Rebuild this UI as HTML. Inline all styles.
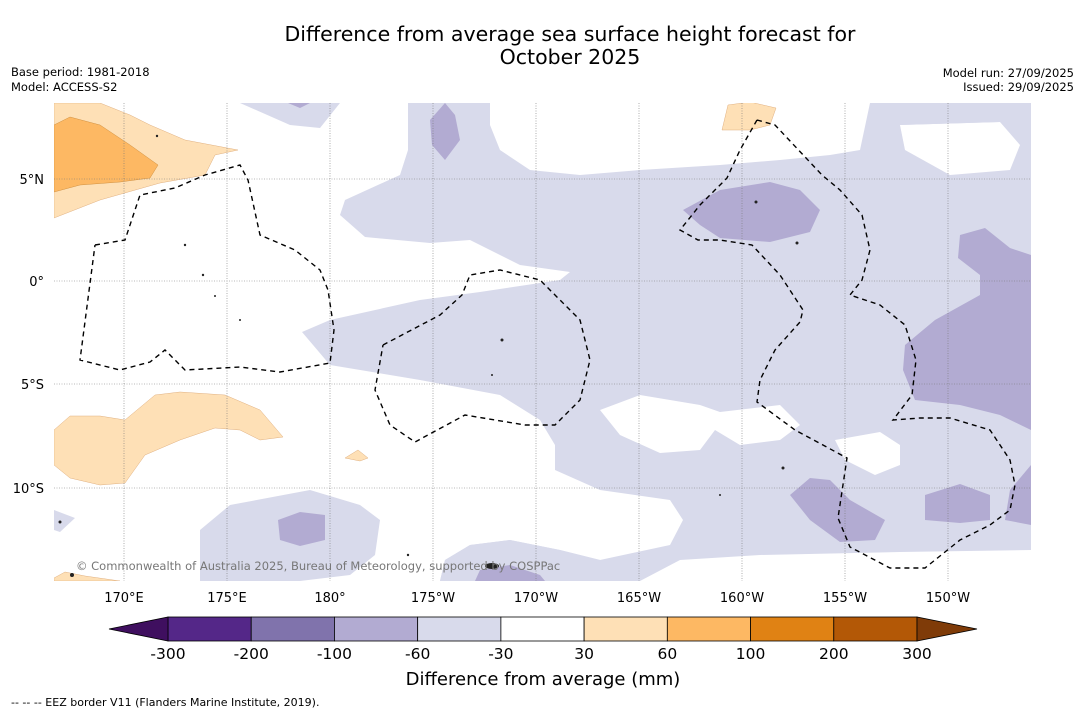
<!DOCTYPE html>
<html><head><meta charset="utf-8"><style>
body{margin:0;background:#fff;width:1085px;height:713px;overflow:hidden;font-family:"DejaVu Sans",sans-serif}
svg{position:absolute;left:0;top:0}
</style></head><body>
<svg width="1085" height="713" font-family="DejaVu Sans, sans-serif">
<text x="570" y="41" text-anchor="middle" font-size="20.5">Difference from average sea surface height forecast for</text>
<text x="570" y="64" text-anchor="middle" font-size="20.5">October 2025</text>
<text x="11" y="76" font-size="11.5">Base period: 1981-2018</text>
<text x="11" y="91" font-size="11.5">Model: ACCESS-S2</text>
<text x="1074" y="77" font-size="11.5" text-anchor="end">Model run: 27/09/2025</text>
<text x="1074" y="91" font-size="11.5" text-anchor="end">Issued: 29/09/2025</text>
<defs><clipPath id="mc"><rect x="54" y="103" width="977" height="478"/></clipPath></defs>
<g clip-path="url(#mc)">
<rect x="54" y="103" width="977" height="478" fill="#d8daeb"/>
<g fill="#fff">
<polygon points="54,103 408,103 408,150 400,175 345,200 340,215 365,237 430,243 470,240 520,265 570,272 560,280 480,292 420,300 330,320 302,332 330,365 420,380 500,395 540,420 555,445 555,470 600,490 670,500 683,520 670,545 600,560 560,550 510,540 470,545 445,560 440,581 54,581"/>
<polygon points="490,103 870,103 860,150 830,155 780,160 720,165 640,170 580,175 530,170 500,150 490,125"/>
<polygon points="900,125 1000,122 1020,145 1010,170 950,175 905,150"/>
<polygon points="600,410 640,395 700,405 720,412 780,405 800,425 780,440 740,445 715,430 700,450 660,453 620,435"/>
<polygon points="835,440 880,432 900,445 900,465 875,475 845,460"/>
<polygon points="680,560 760,555 900,552 1031,550 1031,581 640,581"/>
</g>
<g fill="#d8daeb">
<polygon points="200,530 230,505 310,490 360,505 380,520 375,555 350,575 300,581 200,581"/>
<polygon points="54,510 75,518 60,532 54,530"/>
<polygon points="445,560 470,545 510,540 560,550 600,560 640,581 440,581"/>
<polygon points="870,103 1031,103 1031,125 1000,122 900,125"/>
<polygon points="240,103 340,103 320,128 290,125"/>
</g>
<g fill="#b2abd2">
<polygon points="430,120 445,103 455,115 460,140 445,160 432,145"/>
<polygon points="683,210 720,190 770,182 800,190 820,210 810,232 770,242 720,238 700,225"/>
<polygon points="960,235 985,228 1010,248 1031,255 1031,430 1000,415 960,405 915,400 903,370 905,345 935,320 980,295 980,275 958,258"/>
<polygon points="790,495 810,478 830,480 850,500 885,520 875,540 840,542 810,520"/>
<polygon points="925,495 960,484 990,495 990,520 960,523 925,520"/>
<polygon points="1010,490 1031,465 1031,525 1005,520"/>
<polygon points="278,520 300,512 325,515 325,540 300,546 280,540"/>
<polygon points="288,103 310,103 300,108"/>
<polygon points="480,570 510,565 540,575 545,581 475,581"/>
</g>
<g fill="#fee0b6" stroke="#e0b080" stroke-width="0.5">
<polygon points="54,103 100,103 130,115 150,125 185,140 238,150 215,155 205,175 160,183 100,200 54,218"/>
<polygon points="54,430 70,416 100,416 125,420 155,395 180,392 225,395 260,410 283,437 260,440 240,430 215,428 180,440 145,455 125,483 100,485 70,478 54,465"/>
<polygon points="722,130 728,105 750,102 776,108 770,125 750,130"/>
<polygon points="345,458 358,450 368,458 360,461"/>
<polygon points="54,578 65,572 85,576 120,581 54,581"/>
</g>
<polygon fill="#fdb863" stroke="#d09040" stroke-width="0.5" points="54,125 70,117 100,125 130,145 158,165 150,178 120,182 80,185 54,192"/>
<g stroke="#777" stroke-width="0.6" stroke-dasharray="1,1.5">
<line x1="124" y1="103" x2="124" y2="581"/><line x1="227" y1="103" x2="227" y2="581"/><line x1="330" y1="103" x2="330" y2="581"/><line x1="433" y1="103" x2="433" y2="581"/><line x1="536" y1="103" x2="536" y2="581"/><line x1="639" y1="103" x2="639" y2="581"/><line x1="742" y1="103" x2="742" y2="581"/><line x1="845" y1="103" x2="845" y2="581"/><line x1="948" y1="103" x2="948" y2="581"/>
<line x1="54" y1="179" x2="1031" y2="179"/><line x1="54" y1="281" x2="1031" y2="281"/><line x1="54" y1="384" x2="1031" y2="384"/><line x1="54" y1="488" x2="1031" y2="488"/>
</g>
<g fill="none" stroke="#000" stroke-width="1.4" stroke-dasharray="5,4">
<polyline points="95,245 125,240 140,195 175,188 205,175 240,165 248,180 260,235 295,250 320,270 328,290 334,330 330,363 280,372 240,367 185,370 165,350 150,362 120,370 80,360 95,245"/>
<polyline points="383,345 440,315 462,295 470,275 500,270 540,280 580,320 590,360 580,400 555,425 525,425 465,415 415,442 390,425 375,390 383,345"/>
<polyline points="757,120 775,125 822,175 840,190 862,215 870,250 862,280 850,295 880,305 905,325 916,360 912,395 893,420 920,418 950,418 990,430 1010,460 1015,485 1010,510 990,525 960,540 925,568 890,568 850,547 838,518 847,458 795,430 757,402 760,380 775,350 800,322 803,310 780,275 752,245 720,240 698,240 680,230 700,205 727,178 740,150 757,120"/>
</g>
<g fill="#222">
<circle cx="185" cy="245" r="1.2"/><circle cx="203" cy="275" r="1.2"/><circle cx="215" cy="296" r="1"/><circle cx="240" cy="320" r="1"/><circle cx="502" cy="340" r="1.5"/><circle cx="492" cy="375" r="1"/><circle cx="756" cy="202" r="1.5"/><circle cx="797" cy="243" r="1.5"/><circle cx="783" cy="468" r="1.5"/><circle cx="720" cy="495" r="1"/><circle cx="60" cy="522" r="1.5"/><circle cx="72" cy="575" r="2"/><ellipse cx="492" cy="566" rx="7" ry="3"/><circle cx="408" cy="555" r="1.2"/><circle cx="157" cy="136" r="1.2"/>
</g>
</g>
<text x="76" y="570" font-size="11.5" fill="#777">© Commonwealth of Australia 2025, Bureau of Meteorology, supported by COSPPac</text>
<g font-size="13" text-anchor="middle">
<text x="124" y="602">170°E</text><text x="227" y="602">175°E</text><text x="330" y="602">180°</text><text x="433" y="602">175°W</text><text x="536" y="602">170°W</text><text x="639" y="602">165°W</text><text x="742" y="602">160°W</text><text x="845" y="602">155°W</text><text x="948" y="602">150°W</text>
</g>
<g font-size="13" text-anchor="end">
<text x="44" y="184">5°N</text><text x="44" y="286">0°</text><text x="44" y="389">5°S</text><text x="44" y="493">10°S</text>
</g>
<g id="cbar"></g>
<text x="543" y="685" text-anchor="middle" font-size="18">Difference from average (mm)</text>
<text x="11" y="706" font-size="11">-- --  -- EEZ border V11 (Flanders Marine Institute, 2019).</text>
</svg>
<script>
const cbLabels=["-300","-200","-100","-60","-30","30","60","100","200","300"];
const cbColors=["#542788","#8073ac","#b2abd2","#d8daeb","#ffffff","#fee0b6","#fdb863","#e08214","#b35806"];
const cbEnds=["#3f0f5f","#7f3b08"];
const g=document.getElementById('cbar'),NS="http://www.w3.org/2000/svg";
const x0=168,x1=917,y0=617,y1=641,w=(x1-x0)/cbColors.length;
function add(tag,attrs){const e=document.createElementNS(NS,tag);for(const k in attrs)e.setAttribute(k,attrs[k]);g.appendChild(e);return e;}
cbColors.forEach((c,i)=>{const r=add('rect',{x:x0+i*w,y:y0,width:w,height:y1-y0,fill:c,stroke:'#000','stroke-width':0.8});

});
const tl=add('polygon',{points:`${x0},${y0} ${x0},${y1} 109,629`,fill:cbEnds[0],stroke:'#000','stroke-width':0.8});


const tr=add('polygon',{points:`${x1},${y0} ${x1},${y1} 977,629`,fill:cbEnds[1],stroke:'#000','stroke-width':0.8});


cbLabels.forEach((l,i)=>{const t=add('text',{x:x0+i*w,y:659,'text-anchor':'middle','font-size':15.5});t.textContent=l;

});
</script>
</body></html>
